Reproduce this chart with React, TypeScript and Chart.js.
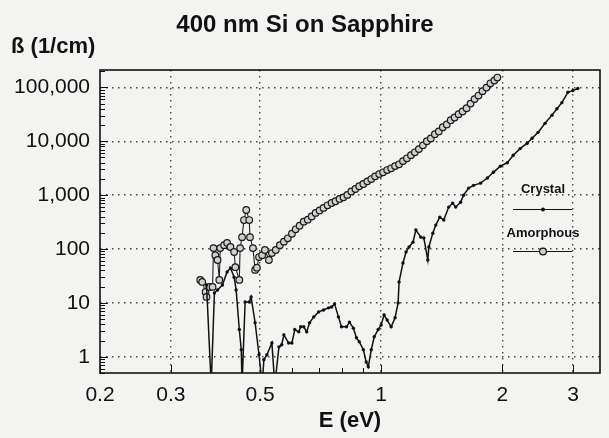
import React, { useEffect, useRef } from "react";
import { Chart, registerables } from "chart.js";

Chart.register(...registerables);

const TITLE = "400 nm Si on Sapphire";
const Y_LABEL = "ß (1/cm)";
const X_LABEL = "E (eV)";
const SERIES_NAMES = ["Crystal", "Amorphous"];

const X_TICKS = [0.2, 0.3, 0.5, 1, 2, 3];
const X_MINOR = [0.6, 0.7, 0.8, 0.9];
const Y_TICKS = [1, 10, 100, 1000, 10000, 100000];

const CRYSTAL_E = [
  0.368, 0.378, 0.385, 0.392, 0.403, 0.414, 0.422, 0.431, 0.436, 0.444, 0.449, 0.451,
  0.459, 0.47, 0.475, 0.486, 0.497, 0.506, 0.511, 0.52, 0.535, 0.544, 0.557, 0.566,
  0.573, 0.589, 0.6, 0.61, 0.624, 0.631, 0.642, 0.653, 0.664, 0.68, 0.699, 0.719,
  0.74, 0.753, 0.766, 0.783, 0.797, 0.82, 0.834, 0.853, 0.868, 0.882, 0.903, 0.918,
  0.929, 0.945, 0.961, 0.983, 1.0, 1.017, 1.035, 1.059, 1.083, 1.102, 1.108, 1.133,
  1.153, 1.173, 1.2, 1.22, 1.255, 1.277, 1.306, 1.314, 1.344, 1.367, 1.399, 1.431,
  1.472, 1.506, 1.532, 1.576, 1.603, 1.65, 1.697, 1.766, 1.837, 1.901, 1.978, 2.059,
  2.13, 2.216, 2.307, 2.373, 2.455, 2.555, 2.659, 2.735, 2.814, 2.912, 2.996, 3.082,
];
const CRYSTAL_B = [
  21.5, 0.3, 15.3, 17.4, 21.5, 37.5, 44.5, 30, 17.4, 3.2, 1.35, 0.3,
  10.4, 10.4, 12.9, 4.3, 1.09, 0.3, 0.88, 1.09, 1.8, 0.3, 1.53, 1.67,
  2.55, 1.8, 1.8, 3.2, 2.9, 3.6, 3.6, 2.9, 4.3, 5.5, 6.8, 7.4,
  8.1, 8.4, 9.6, 5.5, 3.6, 3.6, 4.4, 3.4, 2.25, 1.9, 1.35, 0.8,
  0.65, 1.35, 2.35, 3.2, 3.9, 6, 4.8, 3.6, 5.3, 10, 24.5, 55,
  88, 109, 134, 225, 166, 160, 62.5, 109, 197, 278, 389, 345,
  600, 711, 600, 740, 1000, 1350, 1520, 1670, 2080, 2650, 3440, 4000,
  5500, 7300, 9200, 11400, 14600, 21500, 30500, 40000, 52000, 81000, 87000, 95000,
];

const AMORPH_E = [
  0.355, 0.359, 0.366, 0.368, 0.374, 0.381, 0.383, 0.387, 0.392, 0.396, 0.398, 0.407,
  0.414, 0.422, 0.431, 0.434, 0.444, 0.446, 0.451, 0.456, 0.462, 0.47, 0.472, 0.48,
  0.486, 0.491, 0.497, 0.506, 0.514, 0.526,
  0.535, 0.547, 0.56, 0.573, 0.586, 0.6, 0.613, 0.627, 0.642, 0.657, 0.672, 0.687,
  0.703, 0.719, 0.736, 0.753, 0.77, 0.788, 0.806, 0.824, 0.843, 0.863, 0.882, 0.903,
  0.924, 0.945, 0.966, 0.989, 1.011, 1.035, 1.059, 1.083, 1.108, 1.133, 1.159, 1.186,
  1.213, 1.241, 1.27, 1.299, 1.329, 1.36, 1.391, 1.423, 1.456, 1.489, 1.523, 1.558,
  1.594, 1.631, 1.668, 1.707, 1.746, 1.786, 1.827, 1.869, 1.912, 1.945,
];
const AMORPH_B = [
  26.7, 24.5, 16, 12.9, 19.8, 19.8, 104, 77, 62.5, 26.7, 104, 118,
  130, 109, 88, 46, 26.7, 104, 166, 345, 530, 345, 166, 104,
  41, 45, 71, 77, 96, 62.5,
  84, 96, 118, 137, 158, 192, 232, 270, 322, 350, 402, 468,
  520, 580, 648, 715, 770, 850, 910, 1010, 1170, 1300, 1460, 1610,
  1800, 1990, 2230, 2460, 2650, 2920, 3150, 3460, 3730, 4280, 4820, 5520,
  6230, 7150, 8400, 10000, 11300, 13500, 15200, 18200, 20500, 24600, 27600, 31800,
  35700, 41000, 50000, 60500, 70500, 85000, 99000, 119000, 134000, 152000,
];

const FONT = "'Liberation Sans', Arial, Helvetica, sans-serif";
const INK = "#111111";

function fmtNum(v: number): string {
  return Math.round(v).toLocaleString("en-US");
}

const decoPlugin = {
  id: "deco",
  beforeDraw(chart: any) {
    const ctx = chart.ctx;
    ctx.save();
    ctx.fillStyle = "#f3f3f1";
    ctx.fillRect(0, 0, chart.width, chart.height);
    ctx.restore();
  },
  afterDraw(chart: any) {
    const ctx = chart.ctx;
    const a = chart.chartArea;
    const xs = chart.scales.x;
    const ys = chart.scales.y;
    ctx.save();
    // frame
    ctx.strokeStyle = INK;
    ctx.lineWidth = 1.6;
    ctx.strokeRect(a.left, a.top, a.right - a.left, a.bottom - a.top);
    // y minor ticks
    ctx.lineWidth = 1;
    ctx.beginPath();
    for (let d = 0.1; d <= 1e5; d *= 10) {
      for (let m = 2; m <= 9; m++) {
        const v = m * d;
        if (v < ys.min || v > ys.max) continue;
        const py = Math.round(ys.getPixelForValue(v)) + 0.5;
        ctx.moveTo(a.left, py);
        ctx.lineTo(a.left + 5, py);
      }
    }
    for (const v of Y_TICKS) {
      const py = Math.round(ys.getPixelForValue(v)) + 0.5;
      ctx.moveTo(a.left, py);
      ctx.lineTo(a.left + 8, py);
    }
    // x minor ticks
    for (const v of X_MINOR) {
      const px = Math.round(xs.getPixelForValue(v)) + 0.5;
      ctx.moveTo(px, a.bottom);
      ctx.lineTo(px, a.bottom - 5);
    }
    for (const v of X_TICKS) {
      const px = Math.round(xs.getPixelForValue(v)) + 0.5;
      ctx.moveTo(px, a.bottom);
      ctx.lineTo(px, a.bottom - 8);
    }
    ctx.stroke();

    // title & y label
    ctx.fillStyle = INK;
    ctx.textBaseline = "middle";
    ctx.textAlign = "center";
    ctx.font = `bold 24px ${FONT}`;
    ctx.fillText(TITLE, 305, 25);
    ctx.textAlign = "left";
    ctx.font = `bold 22px ${FONT}`;
    ctx.fillText(Y_LABEL, 11, 47);

    // legend
    const lx = 543;
    ctx.textAlign = "center";
    ctx.font = `bold 13px ${FONT}`;
    ctx.fillText(SERIES_NAMES[0], lx, 189);
    ctx.fillText(SERIES_NAMES[1], lx, 233);
    ctx.strokeStyle = INK;
    ctx.lineWidth = 1.2;
    ctx.beginPath();
    ctx.moveTo(513, 209.5);
    ctx.lineTo(572, 209.5);
    ctx.moveTo(513, 251.5);
    ctx.lineTo(572, 251.5);
    ctx.stroke();
    ctx.beginPath();
    ctx.arc(lx, 209.5, 2, 0, Math.PI * 2);
    ctx.fill();
    ctx.beginPath();
    ctx.arc(lx, 251.5, 3.4, 0, Math.PI * 2);
    ctx.fillStyle = "#cfcfcd";
    ctx.fill();
    ctx.lineWidth = 1.2;
    ctx.stroke();
    ctx.restore();
  },
};

export default function App() {
  const ref = useRef<HTMLCanvasElement | null>(null);

  useEffect(() => {
    document.body.style.margin = "0";
    const canvas = ref.current;
    if (!canvas) return;
    const crystal = CRYSTAL_E.map((x, i) => ({ x, y: CRYSTAL_B[i] }));
    const amorph = AMORPH_E.map((x, i) => ({ x, y: AMORPH_B[i] }));
    const gridColor = (ctx: any) =>
      ctx.tick && ctx.tick.value === 0.2 ? "rgba(0,0,0,0)" : "#444444";

    const chart = new Chart(canvas, {
      type: "line",
      data: {
        datasets: [
          {
            label: SERIES_NAMES[0],
            data: crystal,
            borderColor: INK,
            borderWidth: 1.5,
            pointRadius: 1.7,
            pointBackgroundColor: INK,
            pointBorderWidth: 0,
            tension: 0,
          },
          {
            label: SERIES_NAMES[1],
            data: amorph,
            borderColor: "#222",
            borderWidth: 1.1,
            pointRadius: 3.3,
            pointBackgroundColor: "#cfcfcd",
            pointBorderColor: "#1a1a1a",
            pointBorderWidth: 1.2,
            tension: 0,
          },
        ],
      },
      options: {
        animation: false,
        responsive: false,
        maintainAspectRatio: false,
        events: [],
        layout: { padding: { left: 0, right: 9, top: 70, bottom: 0 } },
        plugins: {
          legend: { display: false },
          title: { display: false },
          tooltip: { enabled: false },
        },
        scales: {
          x: {
            type: "logarithmic",
            min: 0.2,
            max: 3.5,
            afterBuildTicks: (s: any) => {
              s.ticks = X_TICKS.map((v) => ({ value: v }));
            },
            afterFit: (s: any) => {
              s.height = 65;
            },
            ticks: {
              autoSkip: false,
              maxRotation: 0,
              padding: 10,
              color: INK,
              font: { family: FONT, size: 21 },
              callback: (v: any) => String(v),
            },
            grid: { color: gridColor, lineWidth: 1.4, drawTicks: false },
            border: { display: false, dash: [1.5, 4.5] },
            title: {
              display: true,
              text: X_LABEL,
              color: INK,
              font: { family: FONT, size: 22, weight: "bold" },
              padding: { top: 4, bottom: 4 },
            },
          },
          y: {
            type: "logarithmic",
            min: 0.5,
            max: 210000,
            afterBuildTicks: (s: any) => {
              s.ticks = Y_TICKS.map((v) => ({ value: v }));
            },
            afterFit: (s: any) => {
              s.width = 100;
            },
            ticks: {
              autoSkip: false,
              padding: 10,
              color: INK,
              font: { family: FONT, size: 21 },
              callback: (v: any) => fmtNum(Number(v)),
            },
            grid: { color: "#444444", lineWidth: 1.4, drawTicks: false },
            border: { display: false, dash: [1.5, 4.5] },
          },
        },
      } as any,
      plugins: [decoPlugin],
    });
    return () => chart.destroy();
  }, []);

  return (
    <div style={{ position: "absolute", left: 0, top: 0, width: 609, height: 438 }}>
      <canvas ref={ref} width={609} height={438} style={{ display: "block", width: 609, height: 438 }} />
    </div>
  );
}
